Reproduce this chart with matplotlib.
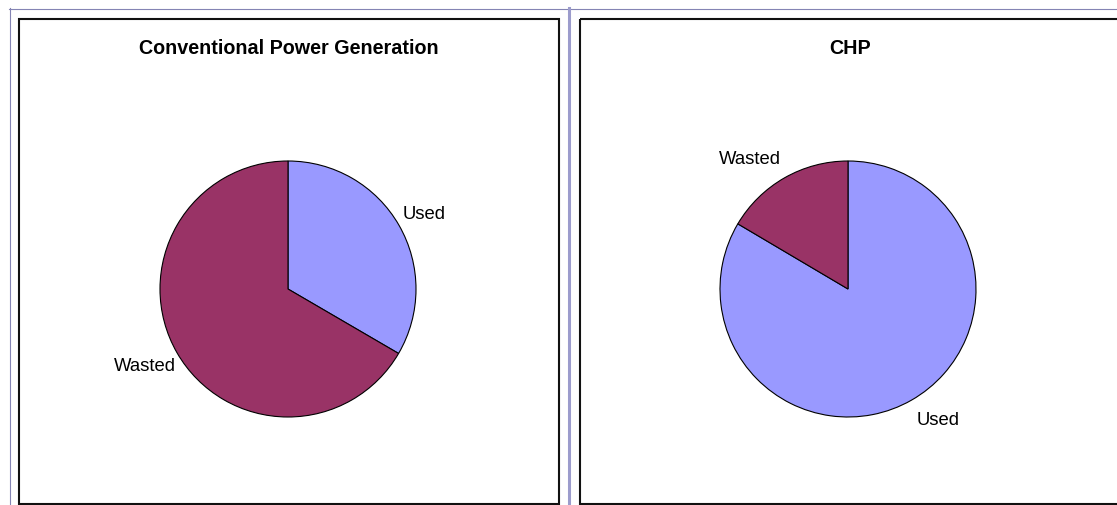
import matplotlib
matplotlib.use("Agg")
import matplotlib.pyplot as plt
from matplotlib.transforms import Affine2D
from matplotlib.lines import Line2D
from matplotlib.patches import Rectangle

plt.rcParams['font.family'] = ['Liberation Sans', 'DejaVu Sans']

# ---- data ----
titles = ["Conventional Power Generation", "CHP"]
categories = ["Used", "Wasted"]
conventional_values = [33.4, 66.6]
chp_values = [83.5, 16.5]
colors = ["#9999FF", "#993366"]

W, H = 1117, 506
fig = plt.figure(figsize=(W / 100, H / 100), dpi=100)
fig.patch.set_facecolor("white")
px = Affine2D().scale(1 / W, -1 / H).translate(0, 1) + fig.transFigure

# outer blue-grey lines
bl = "#8484B4"
fig.add_artist(Line2D([9, W], [9.5, 9.5], color=bl, lw=0.8, transform=px))
fig.add_artist(Line2D([9.5, 9.5], [9, H], color=bl, lw=0.8, transform=px))
fig.add_artist(Line2D([569, 569], [9, H], color="#9C9CCC", lw=2.2, transform=px))

# panel frames
panels = [(18, 19, 559, 505), (579, 19, 1119, 505)]
for (x0, y0, x1, y1) in panels:
    fig.add_artist(Rectangle((x0 + 1, y0 + 1), x1 - x0 - 1, y1 - y0 - 1, fill=False,
                             edgecolor="#111111", lw=1.5, transform=px))

centers = [(288, 290), (848, 290)]
r = 128
label_pos = [
    {"Used": (0.898, 0.555, "left"), "Wasted": (-0.875, -0.630, "right")},
    {"Used": (0.537, -1.055, "left"), "Wasted": (-1.008, 0.984, "left")},
]
all_values = [conventional_values, chp_values]

for i, (vals, (cx, cy)) in enumerate(zip(all_values, centers)):
    ax = fig.add_axes([(cx - r) / W, 1 - (cy + r) / H, 2 * r / W, 2 * r / H])
    wedges, _ = ax.pie(vals, colors=colors, startangle=90, counterclock=False,
                       wedgeprops=dict(edgecolor="black", linewidth=0.8))
    ax.set_xlim(-1, 1)
    ax.set_ylim(-1, 1)
    ax.axis("off")
    for cat in categories:
        x, y, ha = label_pos[i][cat]
        ax.text(x, y, cat, ha=ha, va="baseline", fontsize=13.3, color="black", clip_on=False)
    pcx = (panels[i][0] + panels[i][2]) / 2 if i == 0 else cx + 2
    fig.text(pcx, 54, titles[i], ha="center", va="baseline", fontsize=14.2,
             fontweight="bold", transform=px)

fig.savefig("out.png", dpi=100, facecolor="white")
